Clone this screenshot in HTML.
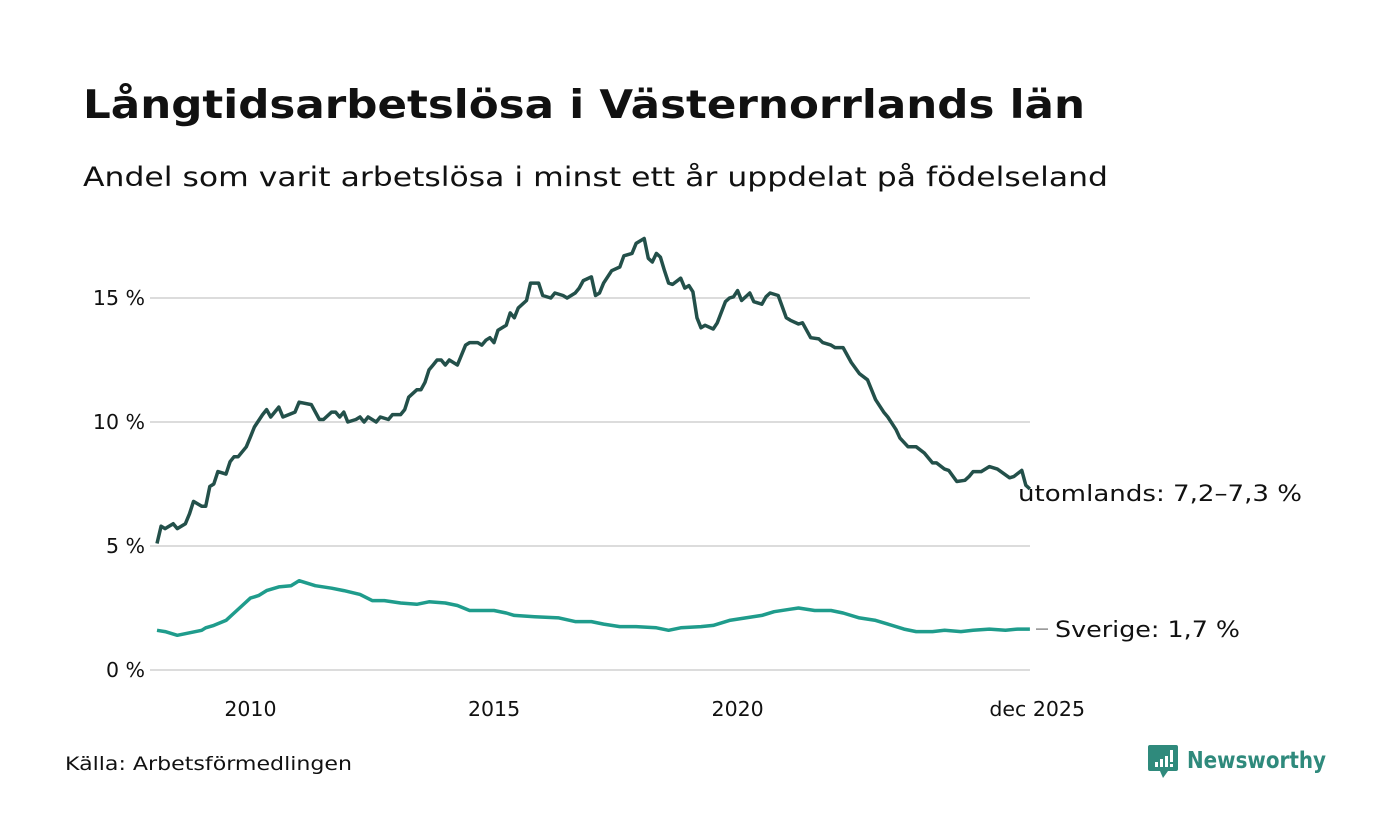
<!DOCTYPE html>
<html><head><meta charset="utf-8"><style>
body{margin:0;background:#fff;font-family:"DejaVu Sans","Liberation Sans",sans-serif;}
#wrap{position:relative;width:1400px;height:840px;overflow:hidden;background:#fff}
text{font-family:"DejaVu Sans","Liberation Sans",sans-serif}
</style></head><body>
<div id="wrap">
<svg id="chart" width="1400" height="840">
<text x="83" y="118" font-size="39" font-weight="bold" fill="#111" textLength="1002" lengthAdjust="spacingAndGlyphs">Långtidsarbetslösa i Västernorrlands län</text>
<text x="83" y="186" font-size="27" fill="#111" textLength="1025" lengthAdjust="spacingAndGlyphs">Andel som varit arbetslösa i minst ett år uppdelat på födelseland</text>
<g id="grid"></g><g id="series"></g>
<text x="65" y="770" font-size="19" fill="#111" textLength="287" lengthAdjust="spacingAndGlyphs">Källa: Arbetsförmedlingen</text>
<g>
<path d="M1150 745 h26 a2 2 0 0 1 2 2 v22 a2 2 0 0 1 -2 2 h-8 l-5 7 l-3 -7 h-10 a2 2 0 0 1 -2 -2 v-22 a2 2 0 0 1 2 -2z" fill="#2f8a7c"/>
<rect x="1155" y="762" width="3" height="5" fill="#fff"/><rect x="1160" y="759" width="3" height="8" fill="#fff"/><rect x="1165" y="756" width="3" height="11" fill="#fff"/><rect x="1170" y="750" width="3" height="12" fill="#fff"/><rect x="1170" y="764" width="3" height="3" fill="#fff"/>
<text x="1187" y="768" font-size="23" font-weight="bold" fill="#2f8a7c" textLength="139" lengthAdjust="spacingAndGlyphs">Newsworthy</text>
</g>
</svg>
</div>
<script>
const yTicks=[0,5,10,15];
const yTickLabels=["0 %","5 %","10 %","15 %"];
const xTickMonths=[24,84,144,215];
const xTickLabels=["2010","2015","2020","dec 2025"];
const abroadMonths=[0,1,2,4,5,7,8,9,11,12,13,14,15,17,18,19,20,22,23,24,26,27,28,30,31,34,35,38,40,41,43,44,45,46,47,49,50,51,52,54,55,57,58,60,61,62,64,65,66,67,68,69,70,71,72,74,76,77,79,80,81,82,83,84,86,87,88,89,91,92,93,94,95,97,98,100,101,103,104,105,107,108,109,110,112,114,115,117,118,120,121,122,123,124,125,126,127,129,130,131,132,133,134,135,137,138,140,141,142,143,144,146,147,149,150,151,153,155,156,158,159,161,163,164,166,167,169,171,173,175,177,179,180,182,183,185,187,189,191,192,194,195,197,199,200,201,203,205,207,210,211,213,214,215];
const abroadValues=[5.1,5.8,5.7,5.9,5.7,5.9,6.3,6.8,6.6,6.6,7.4,7.5,8.0,7.9,8.4,8.6,8.6,9.0,9.4,9.8,10.3,10.5,10.2,10.6,10.2,10.4,10.8,10.7,10.1,10.1,10.4,10.4,10.2,10.4,10.0,10.1,10.2,10.0,10.2,10.0,10.2,10.1,10.3,10.3,10.5,11.0,11.3,11.3,11.6,12.1,12.3,12.5,12.5,12.3,12.5,12.3,13.1,13.2,13.2,13.1,13.3,13.4,13.2,13.7,13.9,14.4,14.2,14.6,14.9,15.6,15.6,15.6,15.1,15.0,15.2,15.1,15.0,15.2,15.4,15.7,15.85,15.1,15.2,15.6,16.1,16.25,16.7,16.8,17.2,17.4,16.6,16.45,16.8,16.65,16.1,15.6,15.55,15.8,15.4,15.5,15.25,14.2,13.8,13.9,13.75,14.0,14.85,15.0,15.05,15.3,14.9,15.2,14.85,14.75,15.05,15.2,15.1,14.2,14.1,13.95,14.0,13.4,13.35,13.2,13.1,13.0,13.0,12.4,11.95,11.7,10.9,10.4,10.2,9.7,9.35,9.0,9.0,8.75,8.35,8.35,8.1,8.05,7.6,7.65,7.8,8.0,8.0,8.2,8.1,7.75,7.8,8.05,7.45,7.3];
const swedenMonths=[0,2,5,8,11,12,14,17,19,21,23,25,27,30,33,35,37,39,43,46,50,53,56,60,64,67,71,74,77,80,83,86,88,93,99,103,107,110,114,118,123,126,129,134,137,141,145,149,152,156,158,162,166,169,173,177,180,184,187,191,194,198,201,205,209,212,215];
const swedenValues=[1.6,1.55,1.4,1.5,1.6,1.7,1.8,2.0,2.3,2.6,2.9,3.0,3.2,3.35,3.4,3.6,3.5,3.4,3.3,3.2,3.05,2.8,2.8,2.7,2.65,2.75,2.7,2.6,2.4,2.4,2.4,2.3,2.2,2.15,2.1,1.95,1.95,1.85,1.75,1.75,1.7,1.6,1.7,1.75,1.8,2.0,2.1,2.2,2.35,2.45,2.5,2.4,2.4,2.3,2.1,2.0,1.85,1.65,1.55,1.55,1.6,1.55,1.6,1.65,1.6,1.65,1.65];
const seriesLabels=["utomlands: 7,2–7,3 %","Sverige: 1,7 %"];

const NS="http://www.w3.org/2000/svg";
const xs=m=>157+m*4.06;
const ys=v=>670-v*24.8;
const grid=document.getElementById('grid'),ser=document.getElementById('series');
function mk(tag,attrs,parent){const e=document.createElementNS(NS,tag);for(const k in attrs)e.setAttribute(k,attrs[k]);parent.appendChild(e);return e;}
yTicks.forEach((t,i)=>{
  const l=mk('line',{x1:150,x2:1030,y1:ys(t),y2:ys(t),stroke:'#dcdcdc','stroke-width':2},grid);
  
  
  const tx=mk('text',{x:145,y:ys(t)+7,'text-anchor':'end','font-size':20.5,fill:'#111'},grid);
  tx.textContent=yTickLabels[i];
  
  
});
xTickMonths.forEach((m,i)=>{
  const last=i===xTickMonths.length-1;
  const tx=mk('text',{x:last?1085:xs(m)-4,y:716,'text-anchor':last?'end':'middle','font-size':20.5,fill:'#111'},grid);
  tx.textContent=xTickLabels[i];
  
  
});
function line(ms,vs,color){
  const d=ms.map((m,i)=>(i?'L':'M')+xs(m).toFixed(1)+' '+ys(vs[i]).toFixed(1)).join(' ');
  return mk('path',{d:d,fill:'none',stroke:color,'stroke-width':3.5,'stroke-linejoin':'round'},ser);
}
const p1=line(abroadMonths,abroadValues,'#23504a');


const p2=line(swedenMonths,swedenValues,'#1f9c8c');


const la=mk('text',{x:1018,y:ys(abroadValues[abroadValues.length-1])+12,'font-size':22,fill:'#111',textLength:284,lengthAdjust:'spacingAndGlyphs'},ser);
la.textContent=seriesLabels[0];


const sl=mk('line',{x1:1036,x2:1048,y1:ys(swedenValues[swedenValues.length-1]),y2:ys(swedenValues[swedenValues.length-1]),stroke:'#555','stroke-width':1},ser);


const lb=mk('text',{x:1055,y:ys(swedenValues[swedenValues.length-1])+8,'font-size':22,fill:'#111',textLength:185,lengthAdjust:'spacingAndGlyphs'},ser);
lb.textContent=seriesLabels[1];


</script>
</body></html>
